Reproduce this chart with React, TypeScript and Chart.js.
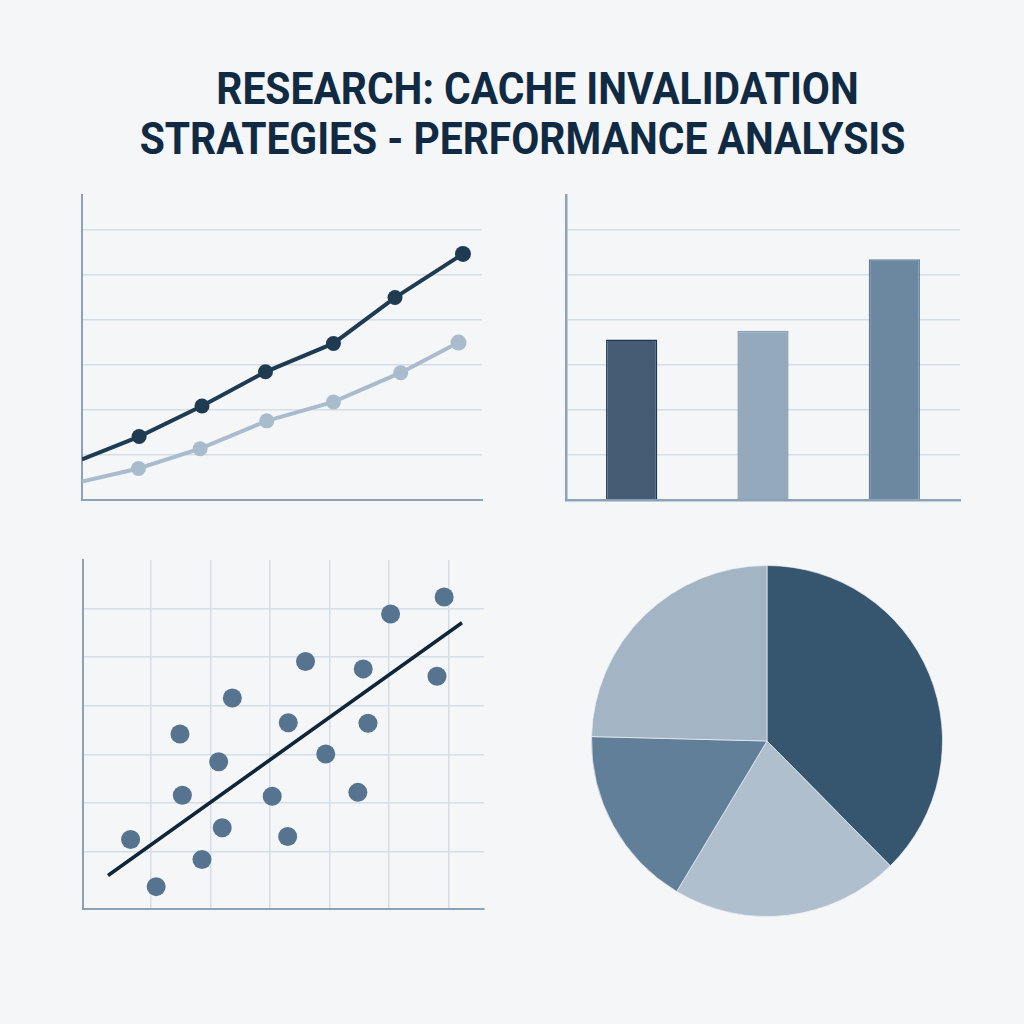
import React, { useEffect, useRef } from "react";
import { Chart, registerables } from "chart.js";

Chart.register(...registerables);

// line chart (top left)
const lineDarkX = [0, 0.9, 1.89, 2.89, 3.96, 4.93, 6.0];
const lineDarkY = [0.9, 1.41, 2.09, 2.85, 3.48, 4.5, 5.47];
const lineLightX = [0, 0.89, 1.86, 2.91, 3.96, 5.02, 5.93];
const lineLightY = [0.41, 0.7, 1.14, 1.76, 2.18, 2.83, 3.5];

// bar chart (top right)
const barLabels = ["A", "B", "C"];
const barValues = [3.57, 3.76, 5.35];

// scatter (bottom left)
const scatterX = [0.66, 1.09, 1.49, 1.53, 1.86, 2.14, 2.2, 2.37, 3.04, 3.3, 3.31, 3.6, 3.94, 4.48, 4.57, 4.65, 5.03, 5.81, 5.93];
const scatterY = [1.25, 0.28, 3.42, 2.16, 0.84, 2.85, 1.49, 4.16, 2.14, 1.31, 3.65, 4.91, 3.01, 2.22, 4.76, 3.64, 5.89, 4.61, 6.24];
const trendX = [0.28, 6.23];
const trendY = [0.51, 5.71];

// pie (bottom right)
const pieLabels = ["A", "B", "C", "D"];
const pieValues = [37.6, 21.0, 16.8, 24.6];

const GRID = "#d4dee9";
const AXIS = "#8ca2b8";
const PAD = 4;

const pairs = (xs: number[], ys: number[]) => xs.map((x, i) => ({ x, y: ys[i] }));

const hiddenTicks = { display: false };

function ChartBox({ left, top, width, height, config }: any) {
  const ref = useRef<HTMLCanvasElement>(null);
  useEffect(() => {
    if (!ref.current) return;
    const chart = new Chart(ref.current, config);
    return () => chart.destroy();
  }, []);
  return (
    <canvas
      ref={ref}
      width={width}
      height={height}
      style={{ position: "absolute", left, top, width, height }}
    />
  );
}

// chart area box -> canvas box (padding around it)
const box = (x1: number, y1: number, x2: number, y2: number) => ({
  left: x1 - PAD,
  top: y1 - PAD,
  width: x2 - x1 + PAD * 2,
  height: y2 - y1 + PAD * 2,
});

const baseOptions = {
  responsive: false,
  animation: false as const,
  layout: { padding: PAD, autoPadding: false },
  plugins: { legend: { display: false }, tooltip: { enabled: false }, title: { display: false } },
};

const lineConfig: any = {
  type: "line",
  data: {
    datasets: [
      {
        data: pairs(lineLightX, lineLightY),
        borderColor: "#a9bccd",
        backgroundColor: "#a9bccd",
        borderWidth: 4,
        pointRadius: [0, 7.5, 7.5, 7.5, 7.5, 7.5, 8],
        pointBorderWidth: 0,
      },
      {
        data: pairs(lineDarkX, lineDarkY),
        borderColor: "#1f3b52",
        backgroundColor: "#1f3b52",
        borderWidth: 4,
        pointRadius: [0, 7.5, 7.5, 7.5, 7.5, 7.5, 8],
        pointBorderWidth: 0,
      },
    ],
  },
  options: {
    ...baseOptions,
    scales: {
      x: {
        type: "linear",
        min: 0,
        max: 6.3,
        ticks: hiddenTicks,
        grid: { display: false, drawTicks: false },
        border: { display: true, color: AXIS, width: 2 },
      },
      y: {
        min: 0,
        max: 6.78,
        ticks: { ...hiddenTicks, stepSize: 1, includeBounds: false },
        grid: { color: GRID, lineWidth: 1.5, drawTicks: false },
        border: { display: true, color: AXIS, width: 2 },
      },
    },
  },
};

const barConfig: any = {
  type: "bar",
  data: {
    labels: barLabels,
    datasets: [
      {
        data: barValues,
        backgroundColor: ["#435c74", "#95a9bc", "#6b88a0"],
        borderColor: ["#1f354b", "#8aa0b4", "#5f7d96"],
        borderWidth: 1.5,
        barPercentage: 1,
        categoryPercentage: 0.39,
      },
    ],
  },
  options: {
    ...baseOptions,
    scales: {
      x: {
        ticks: hiddenTicks,
        grid: { display: false, drawTicks: false },
        border: { display: true, color: AXIS, width: 2.5 },
      },
      y: {
        min: 0,
        max: 6.78,
        ticks: { ...hiddenTicks, stepSize: 1, includeBounds: false },
        grid: { color: GRID, lineWidth: 1.5, drawTicks: false },
        border: { display: true, color: AXIS, width: 2.5 },
      },
    },
  },
};

const scatterConfig: any = {
  type: "scatter",
  data: {
    datasets: [
      {
        data: pairs(trendX, trendY),
        showLine: true,
        borderColor: "#0f2638",
        borderWidth: 3.5,
        pointRadius: 0,
      },
      {
        data: pairs(scatterX, scatterY),
        backgroundColor: "#56748f",
        borderWidth: 0,
        pointRadius: 9.5,
      },
    ],
  },
  options: {
    ...baseOptions,
    scales: {
      x: {
        type: "linear",
        min: -0.14,
        max: 6.6,
        ticks: hiddenTicks,
        afterBuildTicks: (s: any) => {
          s.ticks = [1, 2, 3, 4, 5, 6].map((v) => ({ value: v }));
        },
        grid: { color: GRID, lineWidth: 1.5, drawTicks: false },
        border: { display: true, color: AXIS, width: 2 },
      },
      y: {
        min: -0.18,
        max: 7.0,
        ticks: hiddenTicks,
        afterBuildTicks: (s: any) => {
          s.ticks = [1, 2, 3, 4, 5, 6].map((v) => ({ value: v }));
        },
        grid: { color: GRID, lineWidth: 1.5, drawTicks: false },
        border: { display: true, color: AXIS, width: 2 },
      },
    },
  },
};

const pieConfig: any = {
  type: "pie",
  data: {
    labels: pieLabels,
    datasets: [
      {
        data: pieValues,
        backgroundColor: ["#36556e", "#afbfce", "#627f99", "#a3b5c5"],
        borderColor: "rgba(235,240,245,0.7)",
        borderWidth: 1,
      },
    ],
  },
  options: {
    ...baseOptions,
    layout: { padding: 0, autoPadding: false },
  },
};

const titleStyle: React.CSSProperties = {
  position: "absolute",
  left: 0,
  fontFamily: "Roboto, 'Noto Sans', sans-serif",
  fontWeight: 700,
  fontSize: 44,
  lineHeight: "44px",
  color: "#102a43",
  textAlign: "center",
  whiteSpace: "nowrap",
  transform: "scaleX(0.927)",
};

export default function App() {
  return (
    <div
      style={{
        position: "absolute",
        left: 0,
        top: 0,
        width: 1024,
        height: 1024,
        background: "#f5f6f7",
        overflow: "hidden",
      }}
    >
      <div style={{ ...titleStyle, top: 67, width: 1075 }}>RESEARCH: CACHE INVALIDATION</div>
      <div style={{ ...titleStyle, top: 117, width: 1045 }}>STRATEGIES - PERFORMANCE ANALYSIS</div>
      <ChartBox {...box(82, 195, 482, 500)} config={lineConfig} />
      <ChartBox {...box(566, 195, 960, 500)} config={barConfig} />
      <ChartBox {...box(83, 560, 484, 909)} config={scatterConfig} />
      <ChartBox left={591} top={565} width={352} height={352} config={pieConfig} />
    </div>
  );
}
